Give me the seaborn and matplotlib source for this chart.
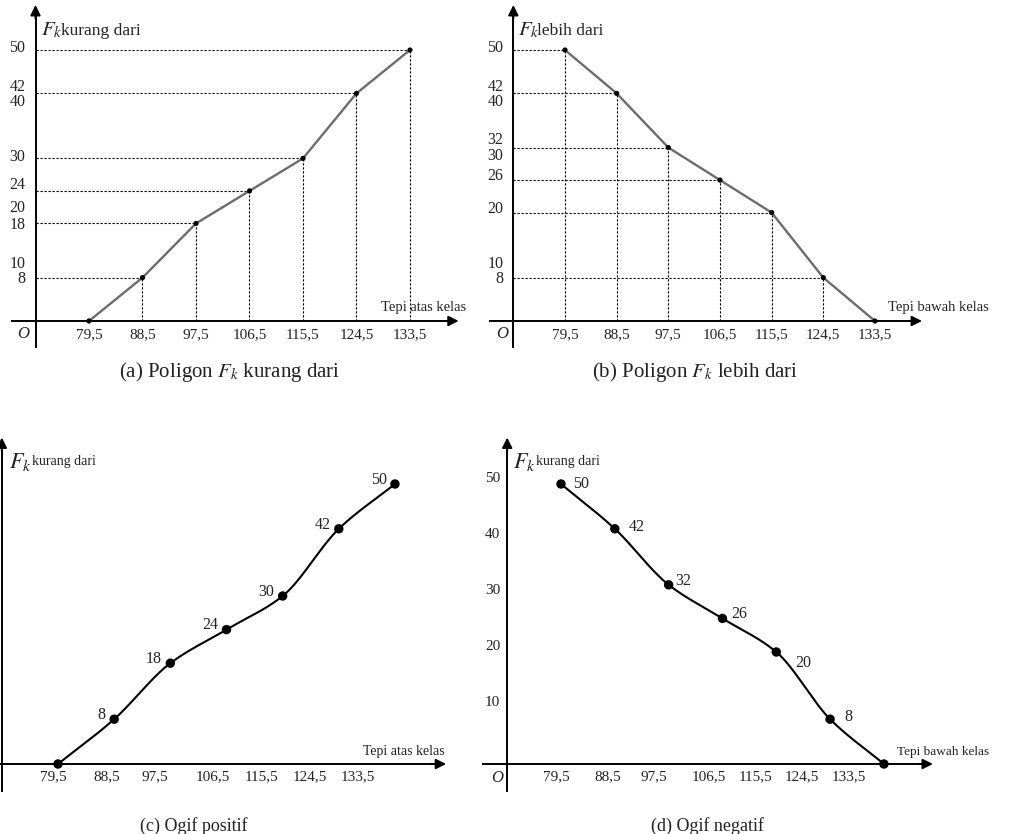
import numpy as np
import pandas as pd
import matplotlib
matplotlib.use("Agg")
import matplotlib.pyplot as plt
import seaborn as sns

# ---------------- data ----------------
X_EDGES = [79.5, 88.5, 97.5, 106.5, 115.5, 124.5, 133.5]
X_LABELS = ["79,5", "88,5", "97,5", "106,5", "115,5", "124,5", "133,5"]
FK_LESS = [0, 8, 18, 24, 30, 42, 50]          # F_k kurang dari
FK_MORE = [50, 42, 32, 26, 20, 8, 0]          # F_k lebih dari
YTICKS_A = [8, 10, 18, 20, 24, 30, 40, 42, 50]
YTICKS_B = [8, 10, 20, 26, 30, 32, 40, 42, 50]
YTICKS_OGIVE = [10, 20, 30, 40, 50]
# where the tick labels sit under the ogive axes (as printed in the source)
OGIVE_LABEL_X = [78.7, 87.3, 95.1, 104.3, 112.1, 119.8, 127.6]

# label nudges (pixels up) so close tick labels do not collide
NUDGE_A = {50: 2, 42: 6.5, 40: 2, 30: 1, 24: 6, 20: 4.5, 18: -2, 10: 2.5, 8: -1.5}
NUDGE_B = {50: 2, 42: 6.5, 40: 2, 32: 7.5, 30: 2.5, 26: 4, 20: 4, 10: 3, 8: -1}

# ---------------- style ----------------
sns.set_theme(style="white")
plt.rcParams["font.family"] = ["Liberation Serif", "DejaVu Serif"]
plt.rcParams["mathtext.fontset"] = "stix"

W, H = 1010, 834
fig = plt.figure(figsize=(W / 100, H / 100), dpi=100)
fig.patch.set_facecolor("white")

Y_AXIS_X = 70.5
X_AXIS_RANGE = (66.5, 140.4)
Y_AXIS_RANGE = (-4.8, 56.8)
TXT = "#222222"
PX = 0.72  # points per pixel


def make_axes(box, px795, sx, py0, sy):
    bx, by, bw, bh = box
    ax = fig.add_axes([bx / W, 1 - (by + bh) / H, bw / W, bh / H])
    ax.set_xlim(79.5 + (bx - px795) / sx, 79.5 + (bx + bw - px795) / sx)
    ax.set_ylim((py0 - (by + bh)) / sy, (py0 - by) / sy)
    ax.patch.set_alpha(0)
    for s in ["top", "right"]:
        ax.spines[s].set_visible(False)
    ax.spines["left"].set_position(("data", Y_AXIS_X))
    ax.spines["bottom"].set_position(("data", 0))
    ax.spines["left"].set_bounds(*Y_AXIS_RANGE)
    ax.spines["bottom"].set_bounds(*X_AXIS_RANGE)
    for s in ["left", "bottom"]:
        ax.spines[s].set_color("black")
        ax.spines[s].set_linewidth(1.4)
    ax.annotate("", xy=(X_AXIS_RANGE[1] + 1.3, 0), xytext=(X_AXIS_RANGE[1] - 1, 0),
                arrowprops=dict(arrowstyle="-|>", color="black", lw=1.4,
                                mutation_scale=15, shrinkA=0, shrinkB=0))
    ax.annotate("", xy=(Y_AXIS_X, Y_AXIS_RANGE[1] + 1.5), xytext=(Y_AXIS_X, Y_AXIS_RANGE[1] - 1),
                arrowprops=dict(arrowstyle="-|>", color="black", lw=1.4,
                                mutation_scale=15, shrinkA=0, shrinkB=0))
    return ax


def T(x, y, s, **kw):
    kw.setdefault("color", TXT)
    kw.setdefault("va", "center")
    return fig.text(x / W, 1 - y / H, s, **kw)


def ylabels(ax, ticks, dx_px, nudge, size):
    for v in ticks:
        ax.annotate(str(v), (Y_AXIS_X, v), xytext=(-dx_px * PX, nudge.get(v, 0) * PX),
                    textcoords="offset points", ha="right", va="center",
                    fontsize=size, color=TXT, annotation_clip=False)


def smooth(x, y, n=60):
    x = np.asarray(x, float)
    y = np.asarray(y, float)
    h = np.diff(x)
    d = np.diff(y) / h
    m = np.zeros_like(y)
    m[0], m[-1] = d[0], d[-1]
    for k in range(1, len(x) - 1):
        if d[k - 1] * d[k] > 0:
            w1 = 2 * h[k] + h[k - 1]
            w2 = h[k] + 2 * h[k - 1]
            m[k] = (w1 + w2) / (w1 / d[k - 1] + w2 / d[k])
    xs, ys = [], []
    for k in range(len(x) - 1):
        t = np.linspace(0, 1, n, endpoint=(k == len(x) - 2))
        h00 = 2 * t**3 - 3 * t**2 + 1
        h10 = t**3 - 2 * t**2 + t
        h01 = -2 * t**3 + 3 * t**2
        h11 = t**3 - t**2
        ys.append(h00 * y[k] + h10 * h[k] * m[k] + h01 * y[k + 1] + h11 * h[k] * m[k + 1])
        xs.append(x[k] + t * h[k])
    return np.concatenate(xs), np.concatenate(ys)


def polygon_panel(ax, yvals, yticks, nudge):
    df = pd.DataFrame({"x": X_EDGES, "y": yvals})
    guide = df[df["y"] > 0]
    ax.vlines(guide["x"], 0, guide["y"], colors="black", lw=0.8, linestyles=(0, (2, 1.6)))
    ax.hlines(guide["y"], Y_AXIS_X, guide["x"], colors="black", lw=0.8, linestyles=(0, (2, 1.6)))
    sns.lineplot(data=df, x="x", y="y", ax=ax, color="#6c6c6c", lw=1.7, sort=False, estimator=None)
    sns.scatterplot(data=df, x="x", y="y", ax=ax, color="black", s=14, edgecolor="none", zorder=5)
    ax.set_xticks(X_EDGES)
    ax.set_xticklabels(X_LABELS)
    ax.set_yticks(yticks)
    ax.set_yticklabels([])
    ax.tick_params(axis="x", length=0, pad=5, labelsize=11, labelcolor=TXT)
    ax.tick_params(axis="y", length=2.5, direction="in", width=0.8, color="#555555")
    ylabels(ax, yticks, 10, nudge, 11.5)
    ax.set_xlabel("")
    ax.set_ylabel("")


def ogive_panel(ax, yvals, tick_x, offsets, ha, show_y):
    xs, ys = smooth(X_EDGES, yvals)
    curve = pd.DataFrame({"x": xs, "y": ys})
    pts = pd.DataFrame({"x": X_EDGES, "y": yvals})
    sns.lineplot(data=curve, x="x", y="y", ax=ax, color="black", lw=1.5, sort=False, estimator=None)
    sns.scatterplot(data=pts, x="x", y="y", ax=ax, color="black", s=46, edgecolor="none", zorder=5)
    for (xv, yv), off in zip(zip(X_EDGES, yvals), offsets):
        if off is None:
            continue
        ax.annotate(str(yv), (xv, yv), xytext=off, textcoords="offset points",
                    ha=ha, va="center", fontsize=11.5, color=TXT)
    ax.set_xticks(OGIVE_LABEL_X)
    ax.set_xticklabels(X_LABELS)
    ax.set_xticks(tick_x, minor=True)
    ax.tick_params(axis="x", which="major", length=0, pad=4.5, labelsize=11, labelcolor=TXT)
    ax.tick_params(axis="x", which="minor", length=8, width=1.4, direction="inout", color="black")
    ax.set_yticks(YTICKS_OGIVE)
    ax.set_yticklabels([])
    ax.tick_params(axis="y", length=6, width=1.4, direction="inout", color="black")
    if show_y:
        ylabels(ax, YTICKS_OGIVE, 7, {v: 5 for v in YTICKS_OGIVE}, 11)
    ax.set_xlabel("")
    ax.set_ylabel("")


# (a) Poligon Fk kurang dari
axA = make_axes((0, 0, 465, 400), 89, 5.944, 321, 5.42)
polygon_panel(axA, FK_LESS, YTICKS_A, NUDGE_A)
T(41, 30, r"$F_k$", fontsize=15)
T(61, 31, "kurang dari", fontsize=12.5)
T(381, 307, "Tepi atas kelas", fontsize=10.5)
T(23, 334, "O", fontsize=12, style="italic", ha="center")
T(230, 372, r"(a) Poligon $F_k$ kurang dari", fontsize=15, ha="center")

# (b) Poligon Fk lebih dari
axB = make_axes((470, 0, 540, 400), 565, 5.74, 321, 5.42)
polygon_panel(axB, FK_MORE, YTICKS_B, NUDGE_B)
T(518, 30, r"$F_k$", fontsize=15)
T(537, 31, "lebih dari", fontsize=12.5)
T(888, 307, "Tepi bawah kelas", fontsize=10.5)
T(502, 334, "O", fontsize=12, style="italic", ha="center")
T(695, 372, r"(b) Poligon $F_k$ lebih dari", fontsize=15, ha="center")

# (c) Ogif positif
axC = make_axes((0, 400, 470, 434), 58, 6.24, 764, 5.6)
ogive_panel(axC, FK_LESS, X_EDGES[1:], [None] + [(-6, 3)] * 6, "right", False)
T(9, 462, r"$F_k$", fontsize=16)
T(32, 462, "kurang dari", fontsize=10)
T(363, 752, "Tepi atas kelas", fontsize=10)
T(194, 826, "(c) Ogif positif", fontsize=13, ha="center")

# (d) Ogif negatif
axD = make_axes((470, 400, 540, 434), 561, 5.98, 764, 5.6)
ogive_panel(axD, FK_MORE, X_EDGES[:-1],
            [(9, 0), (10, 1.5), (4.5, 3), (6.5, 3), (14, -8), (10, 1.5), None], "left", True)
T(513, 462, r"$F_k$", fontsize=16)
T(536, 462, "kurang dari", fontsize=10)
T(897, 752, "Tepi bawah kelas", fontsize=9.5)
T(497, 778, "O", fontsize=12, style="italic", ha="center")
T(707, 826, "(d) Ogif negatif", fontsize=13, ha="center")

fig.savefig("out.png", dpi=100, facecolor="white")
